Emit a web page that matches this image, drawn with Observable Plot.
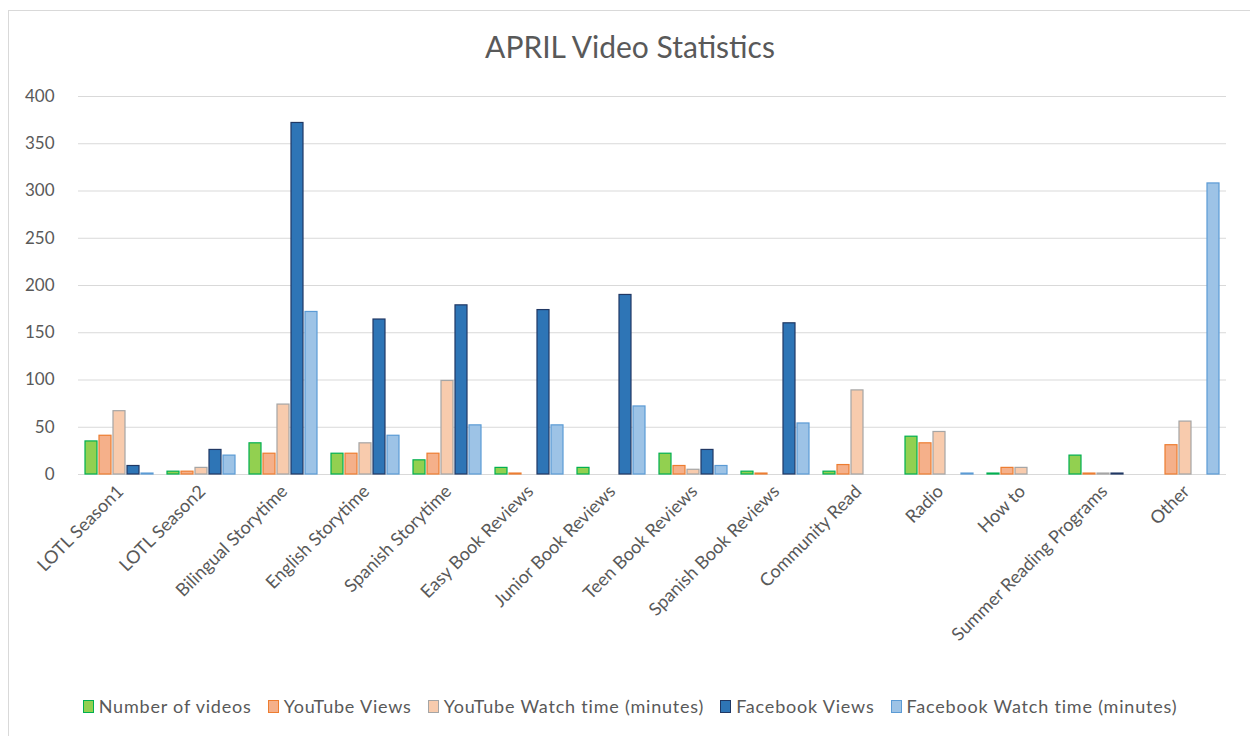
<!DOCTYPE html>
<html>
<head>
<meta charset="utf-8">
<script src="https://cdn.jsdelivr.net/npm/d3@7"></script>
<script src="https://cdn.jsdelivr.net/npm/@observablehq/plot@0.6"></script>
<style>
  html, body { margin: 0; padding: 0; background: #fff; }
  #wrap { position: relative; width: 1250px; height: 736px; overflow: hidden; font-family: Lato, "Open Sans", sans-serif; }
  #frame { position: absolute; left: 8px; top: 10px; width: 1270px; height: 760px; border: 1.5px solid #d9d9d9; box-sizing: border-box; }
  #title { position: absolute; left: 8px; width: 1244px; top: 28px; text-align: center; font-size: 30px; color: #595959; }
  #chart { position: absolute; left: 0; top: 80px; }
  #legend { position: absolute; left: 8px; width: 1244px; top: 694px; height: 24px; display: flex; justify-content: center; align-items: center; font-size: 18px; letter-spacing: 0.8px; color: #595959; }
  .item { display: flex; align-items: center; margin: 0 8px; white-space: nowrap; }
  .sw { width: 9px; height: 11px; margin-right: 5px; border: 1.5px solid; }
</style>
</head>
<body>
<div id="wrap">
  <div id="frame"></div>
  <div id="title">APRIL Video Statistics</div>
  <div id="chart"></div>
  <div id="legend"></div>
</div>
<script>
const categories = ["LOTL Season1", "LOTL Season2", "Bilingual Storytime", "English Storytime", "Spanish Storytime", "Easy Book Reviews", "Junior Book Reviews", "Teen Book Reviews", "Spanish Book Reviews", "Community Read", "Radio", "How to", "Summer Reading Programs", "Other"];
const series = ["Number of videos", "YouTube Views", "YouTube Watch time (minutes)", "Facebook Views", "Facebook Watch time (minutes)"];
const numberOfVideos = [35, 3, 33, 22, 15, 7, 7, 22, 3, 3, 40, 1, 20, 0];
const youtubeViews   = [41, 3, 22, 22, 22, 1, 0, 9, 1, 10, 33, 7, 1, 31];
const youtubeWatch   = [67, 7, 74, 33, 99, 0, 0, 5, 0, 89, 45, 7, 1, 56];
const facebookViews  = [9, 26, 372, 164, 179, 174, 190, 26, 160, 0, 0, 0, 1, 0];
const facebookWatch  = [1, 20, 172, 41, 52, 52, 72, 9, 54, 0, 1, 0, 0, 308];
const yTicks = [0, 50, 100, 150, 200, 250, 300, 350, 400];
const fills   = ["#92d050", "#f5b08a", "#f8cbad", "#2e75b6", "#9dc3e6"];
const strokes = ["#00b050", "#ed7d31", "#a5a5a5", "#203864", "#5b9bd5"];

const valuesBySeries = [numberOfVideos, youtubeViews, youtubeWatch, facebookViews, facebookWatch];
const data = [];
series.forEach((s, i) => categories.forEach((c, j) => data.push({category: c, series: s, value: valuesBySeries[i][j]})));

const barMarks = series.map((s, i) =>
  Plot.barY(data.filter(d => d.series === s && d.value > 0), {
    fx: "category", x: "series", y: "value",
    fill: fills[i], stroke: strokes[i], strokeWidth: 1.2
  })
);

const chart = Plot.plot({
  width: 1250, height: 600,
  marginLeft: 75, marginRight: 22, marginTop: 16, marginBottom: 206,
  style: {fontFamily: "Lato, 'Open Sans', sans-serif", fontSize: "15px", color: "#595959", background: "transparent", overflow: "visible"},
  fx: {domain: categories, padding: 0, label: null, axis: null},
  x: {domain: series, paddingInner: 0.11, paddingOuter: 0.375, axis: null},
  y: {domain: [0, 400], label: null},
  marks: [
    Plot.gridY(yTicks, {stroke: "#d9d9d9", strokeOpacity: 1, strokeWidth: 1.2}),
    Plot.ruleY([0], {stroke: "#d9d9d9", strokeWidth: 1.2}),
    ...barMarks,
    Plot.axisY(yTicks, {tickSize: 0, tickPadding: 24, fontSize: 17, fill: "#595959", label: null}),
    Plot.axisFx({anchor: "bottom", tickRotate: -45, tickSize: 0, tickPadding: 0, dx: 1, dy: 14, fontSize: 18, fill: "#595959", label: null, style: {letterSpacing: "0.3px"}})
  ]
});
document.getElementById("chart").appendChild(chart);

const legend = document.getElementById("legend");
series.forEach((s, i) => {
  const item = document.createElement("div");
  item.className = "item";
  const sw = document.createElement("span");
  sw.className = "sw";
  sw.style.background = fills[i];
  sw.style.borderColor = strokes[i];
  const t = document.createElement("span");
  t.textContent = s;
  item.appendChild(sw); item.appendChild(t);
  legend.appendChild(item);
});
</script>
</body>
</html>
